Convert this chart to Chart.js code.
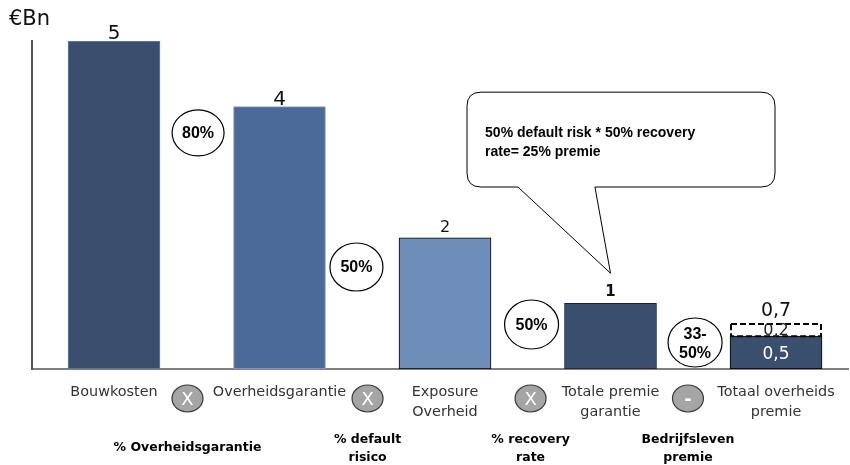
<!DOCTYPE html>
<html><head><meta charset="utf-8">
<script src="https://cdn.jsdelivr.net/npm/chart.js@4"></script>
<style>html,body{margin:0;padding:0;background:#fff}</style>
</head><body>
<canvas id="c" width="850" height="465"></canvas>
<script>
const categories = [['Bouwkosten'], ['Overheidsgarantie'], ['Exposure', 'Overheid'], ['Totale premie', 'garantie'], ['Totaal overheids', 'premie']];
const overheidValues = [5, 4, 2, 1, 0.5];
const bedrijfslevenValues = [0, 0, 0, 0, 0.2];
const valueLabels = ['5', '4', '2', '1', '0,7'];
const stackLabels = ['0,2', '0,5'];
const rateLabels = [['80%'], ['50%'], ['50%'], ['33-', '50%']];
const operatorSymbols = ['X', 'X', 'X', '-'];
const stepLabels = [['% Overheidsgarantie'], ['% default', 'risico'], ['% recovery', 'rate'], ['Bedrijfsleven', 'premie']];
const calloutText = ['50% default risk * 50% recovery', 'rate= 25% premie'];
const yUnit = '€Bn';

const fillColors = ['#3a4e6e', '#4b6a9a', '#6e8db8', '#3a4e6e', '#3a4e6e'];
const edgeColors = ['#6783b3', '#8ea6cc', '#000000', '#1a2233', '#000000'];

const overlay = {
  id: 'overlay',
  afterDatasetsDraw(chart) {
    const ctx = chart.ctx;
    const xs = chart.scales.x, ys = chart.scales.y;
    const px = v => xs.getPixelForValue(v);
    const py = v => ys.getPixelForValue(v);
    const bottom = chart.chartArea.bottom;
    const m0 = chart.getDatasetMeta(0), m1 = chart.getDatasetMeta(1);
    ctx.save();

    // dashed bedrijfsleven part
    const d = m1.data[4].getProps(['x', 'y', 'base', 'width'], true);
    ctx.setLineDash([6, 3]);
    ctx.strokeStyle = '#000';
    ctx.lineWidth = 2;
    ctx.strokeRect(d.x - d.width / 2 + 1, d.y + 1, d.width - 2, d.base - d.y - 1);
    ctx.setLineDash([]);

    // value labels
    ctx.textAlign = 'center';
    ctx.textBaseline = 'alphabetic';
    ctx.fillStyle = '#111';
    const vSizes = [20, 20, 16, 15, 19];
    const vOff = [2, 2, 6, 7, 7];
    valueLabels.forEach((t, i) => {
      const el = (i === 4 ? m1.data[4] : m0.data[i]).getProps(['x', 'y'], true);
      ctx.font = (i === 3 ? 'bold ' : '') + vSizes[i] + 'px "DejaVu Sans"';
      ctx.fillText(t, el.x, el.y - vOff[i]);
    });
    // stack labels
    ctx.textBaseline = 'middle';
    ctx.font = '16px "DejaVu Sans"';
    ctx.fillStyle = '#222';
    ctx.fillText(stackLabels[0], d.x, (d.y + d.base) / 2 + 1);
    const e5 = m0.data[4].getProps(['x', 'y', 'base'], true);
    ctx.fillStyle = '#fff';
    ctx.font = '17px "DejaVu Sans"';
    ctx.fillText(stackLabels[1], e5.x, (e5.y + e5.base) / 2 + 2);

    // rate ellipses
    const rX = [0.508, 1.465, 2.523, 3.511];
    const rY = [3.60, 1.555, 0.678, 0.404];
    const rR = [[26, 23], [26.5, 24], [27, 24.5], [27, 24.5]];
    rateLabels.forEach((lines, i) => {
      const cx = px(rX[i]), cy = py(rY[i]);
      ctx.beginPath();
      ctx.ellipse(cx, cy, rR[i][0], rR[i][1], 0, 0, Math.PI * 2);
      ctx.fillStyle = '#fff';
      ctx.fill();
      ctx.strokeStyle = '#000';
      ctx.lineWidth = 1.2;
      ctx.stroke();
      ctx.fillStyle = '#000';
      ctx.font = 'bold 16px "Liberation Sans"';
      ctx.textAlign = 'center';
      ctx.textBaseline = 'middle';
      if (lines.length === 1) ctx.fillText(lines[0], cx, cy + 1);
      else { ctx.fillText(lines[0], cx, cy - 8); ctx.fillText(lines[1], cx, cy + 11); }
    });

    // category labels
    ctx.fillStyle = '#333';
    ctx.font = '14.4px "DejaVu Sans"';
    ctx.textBaseline = 'middle';
    categories.forEach((lines, i) => {
      lines.forEach((t, j) => ctx.fillText(t, px(i), bottom + 23 + j * 20));
    });

    // operator circles
    const oX = [0.444, 1.532, 2.517, 3.468];
    operatorSymbols.forEach((s, i) => {
      const cx = px(oX[i]), cy = bottom + 29.5;
      ctx.beginPath();
      ctx.ellipse(cx, cy, 15.5, 13.5, 0, 0, Math.PI * 2);
      ctx.fillStyle = '#a5a5a5';
      ctx.fill();
      ctx.strokeStyle = '#3a3a3a';
      ctx.lineWidth = 1.2;
      ctx.stroke();
      ctx.fillStyle = '#fff';
      ctx.font = (s === '-' ? 'bold ' : '') + '18px "DejaVu Sans"';
      ctx.fillText(s, cx, cy + 2);
    });

    // step labels
    ctx.fillStyle = '#000';
    ctx.font = 'bold 12.5px "DejaVu Sans"';
    stepLabels.forEach((lines, i) => {
      const cx = px(oX[i]);
      if (lines.length === 1) ctx.fillText(lines[0], cx, bottom + 79);
      else lines.forEach((t, j) => ctx.fillText(t, cx, bottom + 71 + j * 18));
    });

    // callout
    const L = px(2.133), R = px(3.994), T = py(4.22), B = py(2.774);
    const tl = px(2.441), tr = px(2.906), tipX = px(3.0), tipY = py(1.46);
    const r = 14;
    ctx.beginPath();
    ctx.moveTo(L + r, T);
    ctx.lineTo(R - r, T);
    ctx.quadraticCurveTo(R, T, R, T + r);
    ctx.lineTo(R, B - r);
    ctx.quadraticCurveTo(R, B, R - r, B);
    ctx.lineTo(tr, B);
    ctx.lineTo(tipX, tipY);
    ctx.lineTo(tl, B);
    ctx.lineTo(L + r, B);
    ctx.quadraticCurveTo(L, B, L, B - r);
    ctx.lineTo(L, T + r);
    ctx.quadraticCurveTo(L, T, L + r, T);
    ctx.closePath();
    ctx.fillStyle = '#fff';
    ctx.fill();
    ctx.strokeStyle = '#000';
    ctx.lineWidth = 1;
    ctx.stroke();
    ctx.fillStyle = '#000';
    ctx.font = 'bold 14px "Liberation Sans"';
    ctx.textAlign = 'left';
    ctx.fillText(calloutText[0], px(2.242), py(3.598));
    ctx.fillText(calloutText[1], px(2.242), py(3.308));

    // unit
    ctx.font = '21px "DejaVu Sans"';
    ctx.fillStyle = '#111';
    ctx.fillText(yUnit, 9, 20);
    ctx.restore();
  }
};

new Chart(document.getElementById('c'), {
  type: 'bar',
  data: {
    datasets: [
      {
        label: 'Overheid',
        data: overheidValues.map((v, i) => ({ x: i, y: v })),
        backgroundColor: fillColors,
        borderColor: edgeColors,
        borderWidth: 1,
        borderSkipped: false,
        barThickness: 92
      },
      {
        label: 'Bedrijfsleven',
        data: bedrijfslevenValues.map((v, i) => ({ x: i, y: v })),
        backgroundColor: '#ffffff',
        borderWidth: 0,
        barThickness: 92
      }
    ]
  },
  options: {
    responsive: false,
    animation: false,
    devicePixelRatio: 1,
    layout: { padding: { left: 32, top: 41, right: 2, bottom: 96 } },
    plugins: { legend: { display: false }, tooltip: { enabled: false } },
    scales: {
      x: {
        type: 'linear', min: -0.4955, max: 4.435, stacked: true, offset: false,
        grid: { display: false, drawTicks: false, offset: false }, ticks: { display: false },
        border: { display: true, color: '#7f7f7f', width: 2 }
      },
      y: {
        min: 0, max: 5, stacked: true,
        grid: { display: false, drawTicks: false }, ticks: { display: false },
        border: { display: true, color: '#555555', width: 2 }
      }
    }
  },
  plugins: [overlay]
});
</script>
</body></html>
